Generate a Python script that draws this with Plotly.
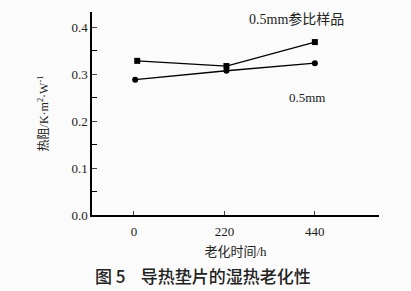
import plotly.graph_objects as go

ref_x = [8, 225, 440]
ref_y = [0.328, 0.317, 0.368]
s_x = [3, 225, 440]
s_y = [0.288, 0.307, 0.323]
x_ticks = [0, 220, 440]
y_ticks = [0.0, 0.1, 0.2, 0.3, 0.4]

serif = "Liberation Serif, Times New Roman, serif"
cjk = "Liberation Serif, Noto Sans CJK SC, serif"

fig = go.Figure()
fig.add_trace(go.Scatter(x=ref_x, y=ref_y, mode="lines+markers",
                         line=dict(color="black", width=1.3),
                         marker=dict(symbol="square", size=6, color="black")))
fig.add_trace(go.Scatter(x=s_x, y=s_y, mode="lines+markers",
                         line=dict(color="black", width=1.3),
                         marker=dict(symbol="circle", size=6, color="black")))

fig.update_layout(
    width=411, height=291, showlegend=False,
    margin=dict(l=92, r=32, t=12, b=76),
    paper_bgcolor="#fbfbfb", plot_bgcolor="#fbfbfb",
    font=dict(family=serif, size=12, color="#222"),
    xaxis=dict(range=[-102, 596], tickvals=x_ticks, ticks="inside", ticklen=4,
               showline=True, linecolor="black", linewidth=1.5, showgrid=False,
               zeroline=False, tickfont=dict(family=serif, size=13),
               ticklabelstandoff=4,
               title=dict(text="老化时间/h", font=dict(family=cjk, size=13), standoff=9)),
    yaxis=dict(range=[0, 0.432], tickvals=y_ticks, tickformat=".1f", ticks="inside", ticklen=5,
               showline=True, linecolor="black", linewidth=1.5, showgrid=False,
               zeroline=False, tickfont=dict(family=serif, size=13),
               minor=dict(dtick=0.05, ticks="inside", ticklen=5, tickcolor="black"),
               title=dict(text="热阻/K·m<sup>2</sup>·W<sup>-1</sup>", font=dict(family=cjk, size=12), standoff=20)),
    annotations=[
        dict(x=396, y=0.417, xref="x", yref="y", text="0.5mm参比样品", showarrow=False,
             font=dict(family=cjk, size=14, color="#222")),
        dict(x=420, y=0.249, xref="x", yref="y", text="0.5mm", showarrow=False,
             font=dict(family=serif, size=13, color="#222")),
        dict(x=93, y=275, xref="paper", yref="paper", text="图 5    导热垫片的湿热老化性",
             showarrow=False, font=dict(family="Noto Sans CJK SC", size=17, color="#222", weight=500),
             xanchor="left", yanchor="middle"),
    ],
)
# place caption in pixel terms relative to plot area
pw = 411 - 92 - 32
ph = 291 - 12 - 76
fig.layout.annotations[2].update(x=(93 - 92) / pw, y=(291 - 76 - 275) / ph)
fig.write_html("out.html")
